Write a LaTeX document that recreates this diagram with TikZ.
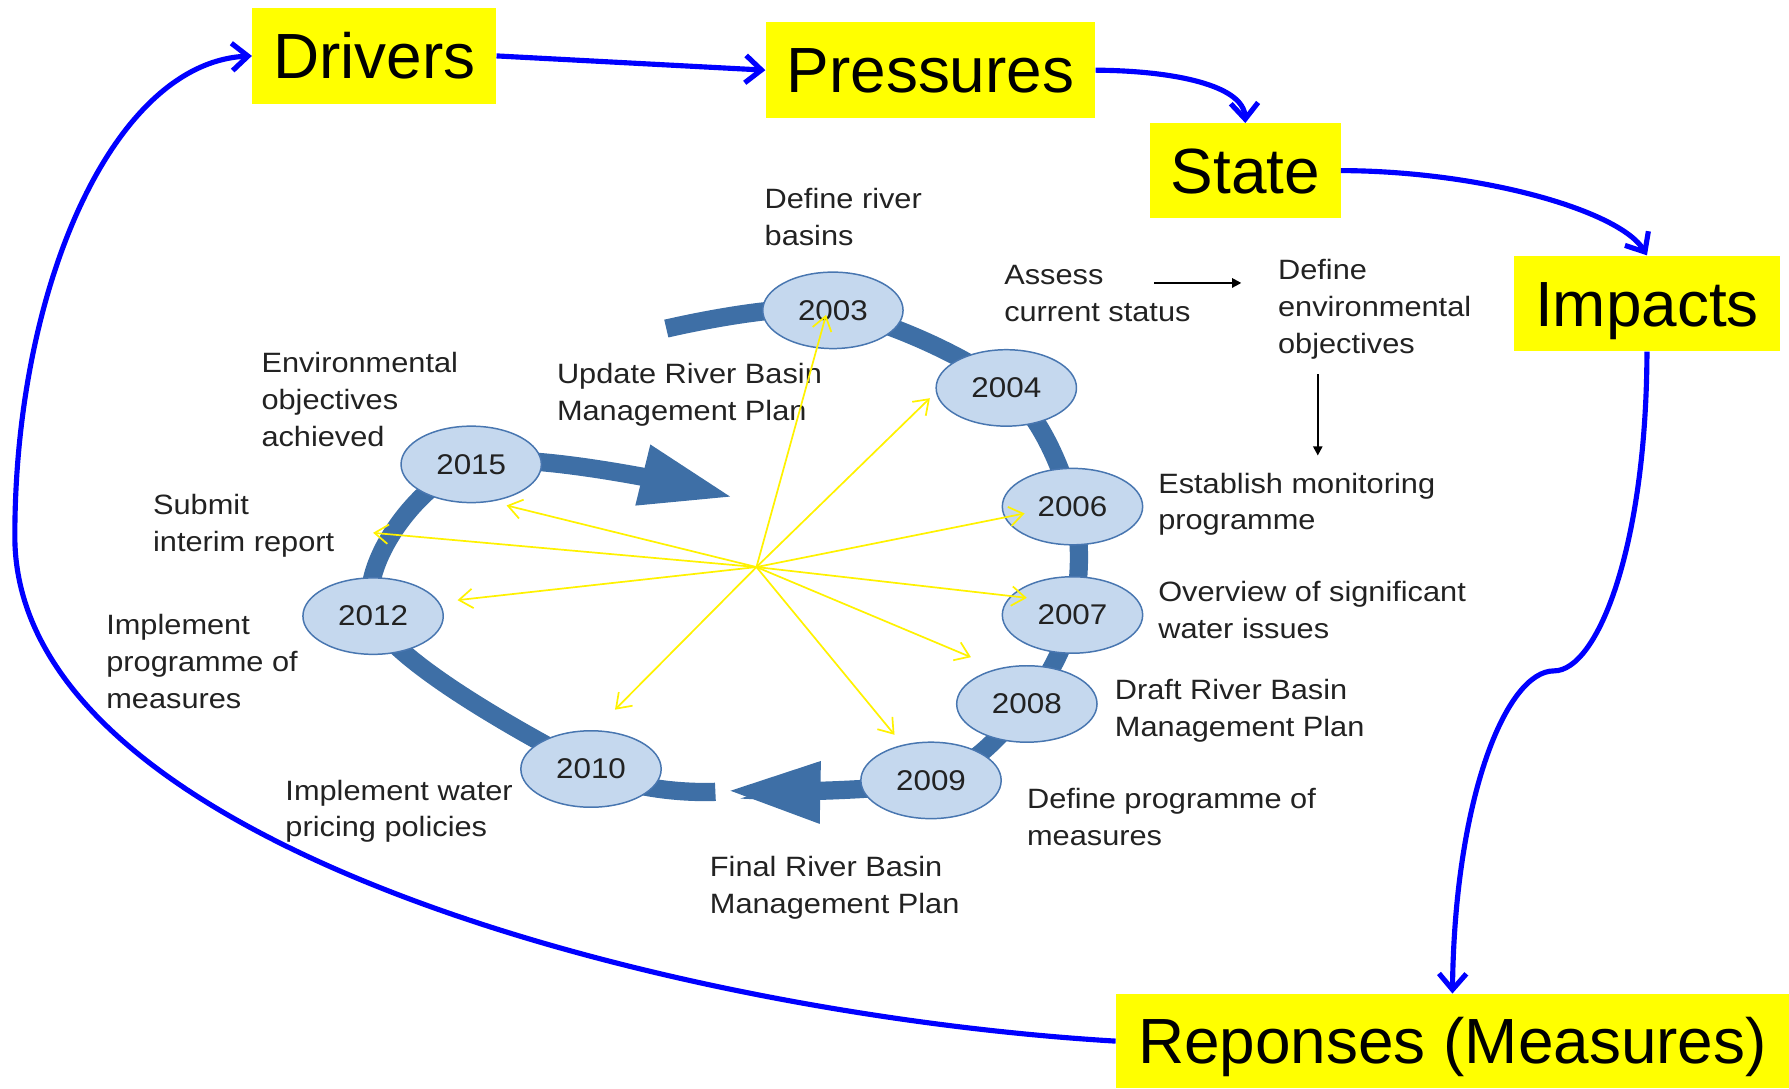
\documentclass[tikz,border=0pt]{standalone}
\usepackage{fontspec}
\setmainfont{Liberation Sans}
\newfontfamily\notefont{Liberation Sans}[FakeStretch=1.1]
\usepackage{tikz}
\usetikzlibrary{positioning,arrows.meta,shapes.geometric,backgrounds}
\definecolor{boxyellow}{RGB}{255,255,0}
\definecolor{loopblue}{RGB}{0,0,255}
\definecolor{ringblue}{RGB}{62,111,166}
\definecolor{yearfill}{RGB}{197,216,238}
\definecolor{yearline}{RGB}{72,118,176}
\definecolor{notegray}{RGB}{34,34,34}
\tikzset{
  dpsir/.style={rectangle,fill=boxyellow,inner sep=0pt,minimum height=84pt,text height=40pt,text depth=0pt,font=\fontsize{56}{60}\selectfont},
  yearnode/.style={ellipse,draw=yearline,line width=1.3pt,fill=yearfill,inner sep=0pt,minimum width=123pt,minimum height=67pt,text=notegray,font=\notefont\fontsize{25}{28}\selectfont},
  steptext/.style={anchor=west,align=left,inner sep=0pt,text=notegray,font=\notefont\fontsize{24.5}{32.3}\selectfont},
  ring/.style={draw=ringblue,line width=16pt},
  ringtip/.style={-{Triangle[length=82pt,width=50pt]}},
  loopedge/.style={loopblue,line width=4.5pt,-{Straight Barb[length=14pt,width=24pt]}},
  hubedge/.style={yellow,line width=1.5pt,-{Straight Barb[length=12pt,width=17pt]}},
  noteedge/.style={black,line width=1.8pt,-{Triangle[length=8pt,width=8pt]}}
}

\begin{document}
\begin{tikzpicture}[x=1pt,y=-1pt]
  \useasboundingbox (0,0) rectangle (1568,954);

  \node[dpsir,minimum width=214pt] (drv) at (328,49) {Drivers};
  \node[dpsir,minimum width=289pt] (prs) at (815.5,61.5) {Pressures};
  \node[dpsir,minimum width=167pt,minimum height=83pt] (sta) at (1091.5,149.5) {State};
  \node[dpsir,minimum width=233pt] (imp) at (1443.5,266) {Impacts};
  \node[dpsir,minimum width=590pt,minimum height=83pt] (rsp) at (1273,912.5) {Reponses (Measures)};

  \foreach \yr/\px/\py in {2003/730/272,2004/882/340,2006/940/444,2007/940/539,2008/900/617,
                           2009/816/684,2010/518/674,2012/327/540,2015/413/407}
    \node[yearnode] (y\yr) at (\px,\py) {\yr};

  \coordinate (rs) at (584,288);
  \coordinate (rt) at (637,693);
  \coordinate (ls) at (627,694);
  \coordinate (lt) at (643,436);
  \begin{scope}[on background layer]
    \draw[ring,ringtip] plot[smooth,tension=0.55] coordinates {(rs) (y2003.center) (y2004.center) (y2006.center) (y2007.center) (y2008.center) (y2009.center) (rt)};
    \draw[ring,ringtip] plot[smooth,tension=0.55] coordinates {(ls) (y2010.center) (y2012.center) (y2015.center) (lt)};
  \end{scope}

  \node[steptext] (basins) at (670,190) {Define river\\basins};
  \node[steptext] (assess) at (880,257) {Assess\\current status};
  \node[steptext] (envobj) at (1120,271) {Define\\environmental\\objectives};
  \node[steptext] (monit) at (1015,442) {Establish monitoring\\programme};
  \node[steptext] (issues) at (1015,535) {Overview of significant\\water issues};
  \node[steptext] (draft) at (977,623) {Draft River Basin\\Management Plan};
  \node[steptext] (measdef) at (900,716) {Define programme of\\measures};
  \node[steptext] (final) at (622,778) {Final River Basin\\Management Plan};
  \node[steptext] (pricing) at (250,711) {Implement water\\pricing policies};
  \node[steptext] (implement) at (93,580) {Implement\\programme of\\measures};
  \node[steptext] (submit) at (134,461) {Submit\\interim report};
  \node[steptext] (achieved) at (229,350) {Environmental\\objectives\\achieved};
  \node[steptext] (update) at (488,346) {Update River Basin\\Management Plan};

  \draw[noteedge] ([shift={(-32,-9)}]assess.east) -- ([shift={(-32,-23)}]envobj.west);
  \draw[noteedge] ([shift={(35,13)}]envobj.south west) -- ([shift={(140,-15)}]monit.north west);

  \coordinate (hub) at (663,497);
  \coordinate (h03) at (724,276);
  \coordinate (h04) at (815,349);
  \coordinate (h06) at (898,450);
  \coordinate (h07) at (900,524);
  \coordinate (h08) at (851,576);
  \coordinate (h09) at (784,644);
  \coordinate (h10) at (539,622);
  \coordinate (h12) at (401,526);
  \coordinate (hrep) at (327,467);
  \coordinate (h15) at (444,443);
  \foreach \tgt in {h03,h04,h06,h07,h08,h09,h10,h12,hrep,h15}
    \draw[hubedge] (hub) -- (\tgt);

  \draw[loopedge] (drv.east) -- (prs.west);
  \draw[loopedge] (prs.east) .. controls (1030,62) and (1090,75) .. (sta.north);
  \draw[loopedge] (sta.east) .. controls (1300,150) and (1420,185) .. (imp.north);
  \coordinate (bend) at (1362,588);
  \draw[loopedge] (imp.south) .. controls (1443,480) and (1400,588) .. (bend)
    .. controls (1320,588) and (1275,700) .. (rsp.north);
  \draw[loopedge] (rsp.west) .. controls (600,890) and (13,745) .. (13,470)
    .. controls (13,250) and (100,55) .. (drv.west);
\end{tikzpicture}
\end{document}
